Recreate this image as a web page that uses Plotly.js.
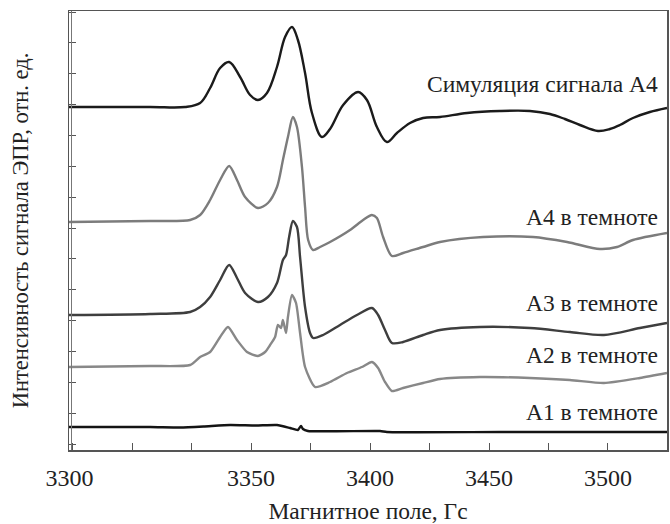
<!DOCTYPE html>
<html>
<head>
<meta charset="utf-8">
<script src="https://cdn.plot.ly/plotly-3.0.1.min.js"></script>
<style>html,body{margin:0;padding:0;background:#fff;}#chart{width:670px;height:524px;}</style>
</head>
<body>
<div id="chart"></div>
<script>
// Magnetic field (G) and offset intensity (arb. units) for each spectrum
const simX = [3273.5,3307.6,3322.3,3328.6,3332.8,3337.0,3340.8,3345.4,3349.6,3352.9,3356.7,3360.9,3364.3,3367.2,3369.7,3372.7,3375.6,3379.8,3383.2,3388.7,3395.0,3398.7,3402.9,3407.1,3411.3,3416.8,3422.3,3429.4,3440.8,3454.6,3467.2,3475.6,3481.9,3488.2,3495.8,3500.8,3505.0,3510.5,3517.6,3524.8];
const simY = [343,343,343,347,362,382,388,373,355,350,357,383,413,423,410,377,337,313,321,345,358,350,323,308,317,327,332,333,337,339,339,336,331,325,319,321,325,332,338,342];

const a4X = [3273.5,3307.6,3324.4,3328.6,3332.8,3337.0,3340.8,3344.1,3347.5,3352.9,3357.1,3360.9,3363.4,3365.5,3367.6,3369.3,3371.4,3372.7,3374.0,3376.1,3379.0,3383.2,3391.6,3397.1,3400.8,3402.9,3405.5,3409.2,3413.9,3422.3,3429.4,3447.5,3468.5,3482.8,3496.6,3503.8,3510.5,3524.8];
const a4Y = [228,229,230,235,250,270,284,270,253,242,247,263,290,313,333,323,283,243,210,200,203,208,220,230,235,232,213,194,197,203,208,213,213,208,201,203,210,217];

const a3X = [3273.5,3307.6,3324.4,3328.6,3332.8,3337.0,3340.8,3344.1,3347.5,3352.9,3357.1,3360.9,3363.4,3364.7,3366.0,3367.6,3369.3,3370.6,3372.7,3374.8,3376.1,3380.3,3387.4,3394.5,3400.8,3403.4,3406.3,3409.2,3413.9,3422.3,3429.4,3446.2,3467.2,3484.0,3498.3,3513.4,3524.8];
const a3Y = [135,136,138,143,153,170,185,172,157,148,153,167,190,195,213,229,223,193,143,117,112,115,125,135,142,135,120,107,108,115,120,123,122,118,115,122,127];

const a2X = [3273.5,3307.6,3324.4,3328.6,3332.8,3337.0,3340.3,3344.1,3348.3,3352.9,3355.9,3358.0,3360.1,3361.3,3362.6,3363.4,3364.7,3365.5,3367.2,3368.9,3370.6,3372.7,3376.9,3383.2,3390.3,3396.6,3400.8,3403.4,3406.3,3409.2,3413.9,3422.3,3429.4,3446.2,3467.2,3484.0,3498.3,3513.4,3524.8];
const a2Y = [83,84,85,93,98,113,123,110,98,94,98,105,113,125,122,130,117,133,155,147,117,83,63,68,77,83,88,82,68,59,62,67,71,73,72,70,67,72,77];

const a1X = [3273.5,3307.6,3320.2,3330.0,3341.2,3352.0,3360.9,3366.4,3369.7,3371.0,3371.8,3373.9,3404.2,3407.1,3454.6,3524.8];
const a1Y = [23,23,22.5,23.5,25,24.5,25,22,20,24,21,19,19,18,18,18];

const seriesLabels = ['Симуляция сигнала А4','А4 в темноте','А3 в темноте','А2 в темноте','А1 в темноте'];
const labelY = [366,233,147,95,38];

const xTickVals = [3273.7,3350,3400,3450,3500];
const xTickText = ['3300','3350','3400','3450','3500'];

const FONT = 'Liberation Serif, serif';
const TXT = '#222';

function tr(x, y, color, shape, sm){
  return {x:x, y:y, type:'scatter', mode:'lines', hoverinfo:'skip',
    line:{color:color, width:2.4, shape:shape, smoothing:sm}};
}

const data = [
  tr(simX, simY, '#1b1b1b', 'spline', 1.0),
  tr(a4X, a4Y, '#7c7c7c', 'spline', 0.8),
  tr(a3X, a3Y, '#3e3e3e', 'spline', 0.8),
  tr(a2X, a2Y, '#888888', 'spline', 0.6),
  tr(a1X, a1Y, '#141414', 'spline', 0.5)
];

const annotations = seriesLabels.map((t,i)=>({
  text:t, xref:'paper', x:0.988, xanchor:'right', yref:'y', y:labelY[i], yanchor:'middle',
  showarrow:false, font:{family:FONT, size:23.5, color:TXT}
}));

const layout = {
  width:670, height:524,
  margin:{l:69, r:3, t:11, b:74},
  paper_bgcolor:'#fff', plot_bgcolor:'#fff',
  showlegend:false,
  font:{family:FONT, color:TXT},
  xaxis:{
    range:[3273.5,3524.8], showgrid:false, zeroline:false,
    showline:true, mirror:true, linecolor:'#555', linewidth:1.5,
    tickmode:'array', tickvals:xTickVals, ticktext:xTickText,
    ticks:'inside', ticklen:7, tickcolor:'#555', tickwidth:1,
    minor:{tick0:3300, dtick:25, ticks:'inside', ticklen:7, tickcolor:'#555', tickwidth:1, showgrid:false},
    tickfont:{family:FONT, size:24, color:TXT},
    ticklabelstandoff:6,
    title:{text:'Магнитное поле, Гс', font:{family:FONT, size:23.5, color:TXT}, standoff:14},
    automargin:false
  },
  yaxis:{
    range:[0,439], showgrid:false, zeroline:false,
    showline:true, mirror:true, linecolor:'#555', linewidth:1.5,
    tick0:6, dtick:30.85, ticks:'inside', ticklen:7, tickcolor:'#555', tickwidth:1,
    showticklabels:false,
    title:{text:'Интенсивность сигнала ЭПР, отн. ед.', font:{family:FONT, size:22.5, color:TXT}, standoff:32},
    automargin:false
  },
  shapes:[{type:'line', xref:'paper', yref:'paper', x0:0.0042, x1:0.0042, y0:0, y1:1,
    line:{color:'#777', width:1}}],
  annotations:annotations
};

Plotly.newPlot('chart', data, layout, {staticPlot:true, displayModeBar:false});
</script>
</body>
</html>
